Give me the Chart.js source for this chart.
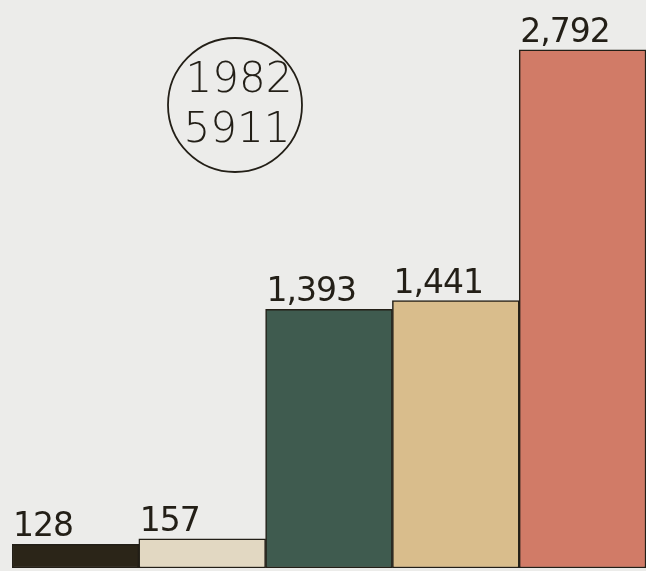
<!DOCTYPE html>
<html>
<head>
<meta charset="utf-8">
<script src="https://cdn.jsdelivr.net/npm/chart.js@4/dist/chart.umd.min.js"></script>
<style>
  html, body { margin: 0; padding: 0; background: #ececea; }
  #wrap { width: 646px; height: 571px; position: relative; }
</style>
</head>
<body>
<div id="wrap"><canvas id="chart"></canvas></div>
<script>
const categories = ['A', 'B', 'C', 'D', 'E'];
const values = [128, 157, 1393, 1441, 2792];
const valueLabels = ['128', '157', '1,393', '1,441', '2,792'];
const barColors = ['#2b2518', '#e2d8c2', '#3f5b4f', '#d9bd8c', '#d17b67'];
const badgeLines = ['1982', '5911'];

const inkColor = '#231f17';
const handFont = '"DejaVu Sans", sans-serif';

// valeurs au-dessus des barres
const labelPlugin = {
    id: 'valueLabels',
    afterDatasetsDraw(chart) {
        const ctx = chart.ctx;
        const meta = chart.getDatasetMeta(0);
        ctx.save();
        ctx.fillStyle = inkColor;
        ctx.font = '400 33px ' + handFont;
        ctx.letterSpacing = '-1px';
        ctx.textAlign = 'left';
        ctx.textBaseline = 'alphabetic';
        meta.data.forEach((bar, i) => {
            const left = bar.x - bar.width / 2;
            ctx.fillText(valueLabels[i], left + 1, bar.y - 8);
        });
        ctx.restore();
    }
};

// cercle avec l'année et le total
const badgePlugin = {
    id: 'badge',
    afterDraw(chart) {
        const ctx = chart.ctx;
        const cx = 235, cy = 105, r = 67;
        ctx.save();
        ctx.strokeStyle = inkColor;
        ctx.lineWidth = 1.8;
        ctx.beginPath();
        ctx.arc(cx, cy, r, 0, Math.PI * 2);
        ctx.stroke();
        ctx.fillStyle = inkColor;
        ctx.font = '300 42px ' + handFont;
        ctx.textAlign = 'center';
        ctx.textBaseline = 'middle';
        ctx.fillText(badgeLines[0], cx + 4, cy - 24);
        ctx.fillText(badgeLines[1], cx + 2, cy + 26);
        ctx.restore();
    }
};

new Chart(document.getElementById('chart'), {
    type: 'bar',
    data: {
        labels: categories,
        datasets: [{
            data: values,
            backgroundColor: barColors,
            borderColor: inkColor,
            borderWidth: 1.5,
            borderSkipped: false,
            barPercentage: 1,
            categoryPercentage: 1
        }]
    },
    options: {
        responsive: true,
        maintainAspectRatio: false,
        animation: false,
        layout: { padding: { left: 12, right: 0, top: 0, bottom: 3 } },
        scales: {
            x: { display: false },
            y: { display: false, min: 0, max: 3060 }
        },
        plugins: {
            legend: { display: false },
            tooltip: { enabled: false }
        }
    },
    plugins: [labelPlugin, badgePlugin]
});
</script>
</body>
</html>
